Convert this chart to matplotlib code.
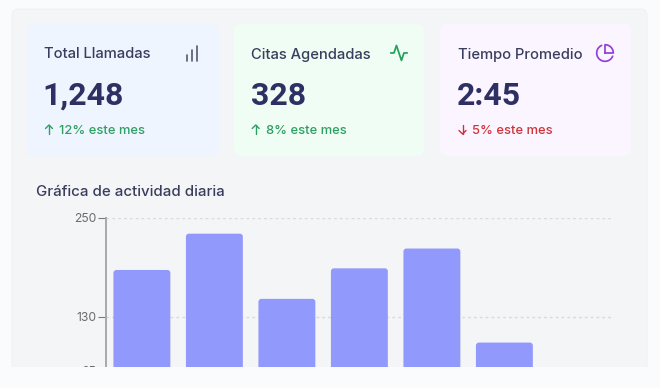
import numpy as np
import matplotlib
matplotlib.use("Agg")
import matplotlib.pyplot as plt
from matplotlib.patches import FancyBboxPatch, Rectangle

plt.rcParams['font.family'] = ['Inter', 'DejaVu Sans']

# data
card_titles = ["Total Llamadas", "Citas Agendadas", "Tiempo Promedio"]
card_values = ["1,248", "328", "2:45"]
card_deltas = ["12% este mes", "8% este mes", "5% este mes"]
delta_up = [True, True, False]
dias = ["Lun", "Mar", "Mié", "Jue", "Vie", "Sáb"]
llamadas = [187, 231, 152, 189, 213, 99]
y_ticks = [250, 130, 65]

W, H = 660, 388
page = "#f9fbfd"
panel = "#f3f5f7"
ink = "#3a3d5c"
num = "#2e3063"
green = "#2f9e63"
red = "#cf3339"

fig = plt.figure(figsize=(W / 100, H / 100), dpi=100, facecolor=page)

# pixel canvas for the cards
bg = fig.add_axes([0, 0, 1, 1], zorder=0)
bg.set_xlim(0, W)
bg.set_ylim(H, 0)
bg.axis("off")


def box(ax, x0, y0, x1, y1, r, color, edge="none"):
    ax.add_patch(FancyBboxPatch((x0, y0), x1 - x0, y1 - y0, boxstyle=f"round,pad=0,rounding_size={r}",
                                fc=color, ec=edge, lw=0.8))


box(bg, 12, 9, 647, 380, 7, panel, "#eff1f4")

card_x = [(27, 219), (234, 424), (440, 631)]
text_x = [44, 250.7, 457.5]
num_x = [42.5, 250.7, 456.8]
card_col = ["#eff5ff", "#effdf4", "#fbf5ff"]
for i in range(3):
    x0, x1 = card_x[i]
    tx = text_x[i]
    box(bg, x0, 24, x1, 156, 7, card_col[i])
    bg.text(tx, 53, card_titles[i], fontsize=10.6, color=ink, weight=500, va="center_baseline")
    # Roboto digits are close to the tight tracking of the original numbers
    bg.text(num_x[i], 93, card_values[i], fontsize=23, color=num, weight="bold", family="Roboto",
            va="center_baseline")
    c = green if delta_up[i] else red
    bg.text(tx + 15, 129.5, card_deltas[i], fontsize=9.3, color=c, weight=500, va="center_baseline")
    # arrow icon
    ax0 = tx + 5
    if delta_up[i]:
        bg.plot([ax0, ax0], [134, 125], color=c, lw=1, solid_capstyle="round")
        bg.plot([ax0 - 3.5, ax0, ax0 + 3.5], [128.5, 125, 128.5], color=c, lw=1, solid_capstyle="round")
    else:
        bg.plot([ax0, ax0], [125, 134], color=c, lw=1, solid_capstyle="round")
        bg.plot([ax0 - 3.5, ax0, ax0 + 3.5], [130.5, 134, 130.5], color=c, lw=1, solid_capstyle="round")

# signal icon
for x, top in [(186.7, 55), (192, 50), (197, 45.5)]:
    bg.plot([x, x], [top, 60.5], color="#55596b", lw=1.2, solid_capstyle="round")

# activity icon
ax_ = np.array([2, 6, 9, 15, 18, 22]) * 0.83 + 389
ay_ = np.array([12, 12, 3, 21, 12, 12]) * 0.83 + 43
bg.plot(ax_, ay_, color="#22a05a", lw=1.25, solid_capstyle="round", solid_joinstyle="round")

# pie icon, y axis points down so angles run clockwise on screen
s = 0.83
cx, cy = 605, 53
pc = "#9540d6"
t = np.radians(np.linspace(23, 246, 60))
bg.plot(cx + 10 * s * np.cos(t), cy + 10 * s * np.sin(t), color=pc, lw=1.25, solid_capstyle="round")
t = np.radians(np.linspace(-90, 0, 20))
bg.plot(np.r_[cx, cx + 10 * s * np.cos(t), cx], np.r_[cy, cy + 10 * s * np.sin(t), cy],
        color=pc, lw=1.25, solid_joinstyle="round")

bg.text(36, 191, "Gráfica de actividad diaria", fontsize=10.8, color=ink, weight=500, va="center_baseline")

# chart, runs below the panel and gets cut off there
px_unit = 99 / 120
left, right, top = 106, 613.5, 218
bottom = top + 250 * px_unit
ax = fig.add_axes([left / W, 1 - bottom / H, (right - left) / W, (bottom - top) / H], zorder=1)
ax.patch.set_alpha(0)
ax.set_xlim(-0.5, 6.5)
ax.set_ylim(0, 250)
for s_ in ["top", "right", "bottom"]:
    ax.spines[s_].set_visible(False)
ax.spines["left"].set_color("#a6a8ac")
ax.spines["left"].set_linewidth(1.4)
ax.set_xticks([])
ax.set_yticks(y_ticks)
ax.tick_params(axis="y", length=5.5, width=0.8, color="#7a7a7a", labelcolor="#6b6b6b", labelsize=8.7, pad=1.5)
ax.grid(axis="y", color="#d8dadd", lw=1, ls=(0, (2, 2.2)))
ax.set_axisbelow(True)

step_px = (right - left) / 7
aspect = step_px / px_unit
bw = 0.785
for i, v in enumerate(llamadas):
    ax.add_patch(FancyBboxPatch((i - bw / 2 - 0.005, 0), bw, v, boxstyle=f"round,pad=0,rounding_size={3 / step_px}",
                                mutation_aspect=aspect, fc="#9299fd", ec="none", zorder=3))

# page colour over everything below the panel edge
top_ax = fig.add_axes([0, 0, 1, 1], zorder=2)
top_ax.set_xlim(0, W)
top_ax.set_ylim(H, 0)
top_ax.axis("off")
top_ax.add_patch(Rectangle((0, 367), W, H - 367, fc=page, ec="none"))

fig.savefig("out.png", dpi=100, facecolor=page)
